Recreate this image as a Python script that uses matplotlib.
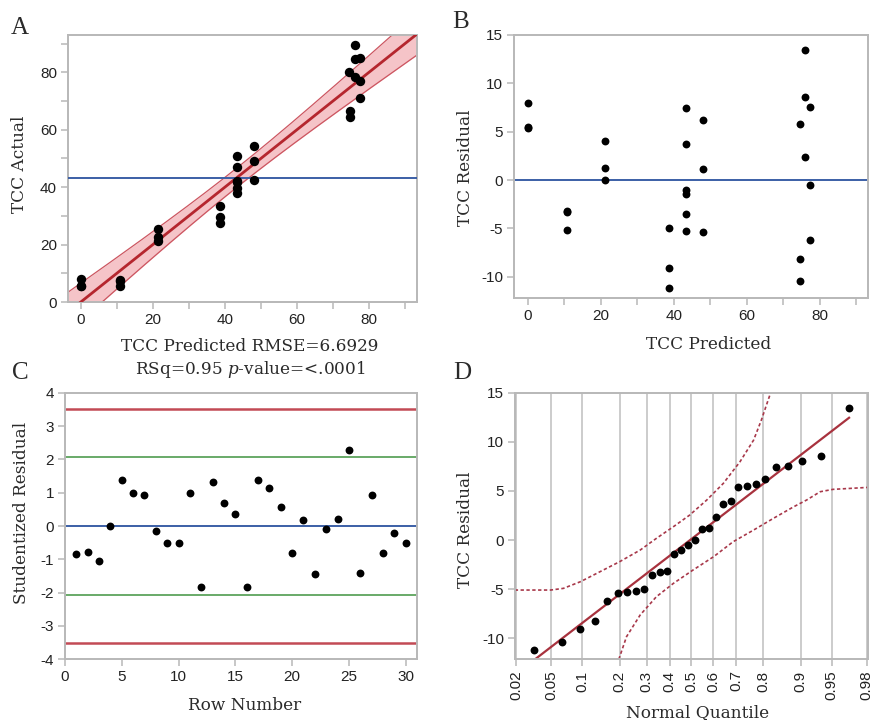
import numpy as np
import matplotlib
matplotlib.use('Agg')
import matplotlib.pyplot as plt
from matplotlib.ticker import MultipleLocator, FixedLocator
from statistics import NormalDist

# ---- data ----
# A / B: one entry per row (model predicted TCC and its residual)
predicted = [0.0, 0.0, 0.0, 10.7, 10.7, 10.7, 21.3, 21.3, 21.3,
             38.6, 38.6, 38.6, 43.3, 43.3, 43.3, 43.3, 43.3, 43.3,
             48.0, 48.0, 48.0, 74.5, 74.7, 74.7, 76.0, 76.0, 76.0,
             77.4, 77.4, 77.4]
residual = [8.0, 5.4, 5.5, -3.3, -3.2, -5.2, 4.0, 1.2, 0.0,
            -5.0, -9.1, -11.2, 7.4, 3.7, -1.0, -1.45, -3.55, -5.3,
            6.25, 1.15, -5.4, 5.75, -8.2, -10.4, 13.45, 8.6, 2.35,
            7.55, -0.55, -6.2]
rmse = 6.6929
band_crit = 2.75  # width factor of the confidence curves in A

# C: studentized residual by row number
rows = list(range(1, 31))
stud_resid = [-0.83, -0.77, -1.05, 0.01, 1.38, 0.98, 0.94, -0.15, -0.52, -0.50,
              0.98, -1.83, 1.32, 0.68, 0.37, -1.84, 1.38, 1.13, 0.57, -0.81,
              0.19, -1.44, -0.09, 0.21, 2.27, -1.41, 0.92, -0.80, -0.21, -0.51]
limit_red = 3.52
limit_green = 2.07

# D: normal quantile plot, reference line and confidence curves (z, residual)
qline_icpt = 0.1
qline_slope = 6.68
upper_z = [-2.07, -1.65, -1.50, -1.30, -1.07, -0.84, -0.60, -0.41, -0.21,
           -0.02, 0.18, 0.375, 0.57, 0.73, 0.82, 0.90, 0.93]
upper_y = [-5.09, -5.09, -4.92, -4.24, -3.22, -2.20, -1.02, 0.17, 1.36,
           2.54, 4.07, 5.77, 7.97, 10.18, 12.2, 14.25, 15.0]
lower_z = [-0.85, -0.76, -0.60, -0.41, -0.21, 0.02, 0.26, 0.49, 0.73,
           0.96, 1.20, 1.35, 1.51, 1.66, 2.07]
lower_y = [-12.14, -9.84, -7.63, -5.77, -4.41, -3.05, -1.70, -0.17, 1.02,
           2.20, 3.39, 4.07, 4.92, 5.16, 5.36]
prob_ticks = [0.02, 0.05, 0.1, 0.2, 0.3, 0.4, 0.5, 0.6, 0.7, 0.8, 0.9, 0.95, 0.98]

# ---- style ----
plt.rcParams['font.family'] = ['Liberation Sans', 'DejaVu Sans']
plt.rcParams['axes.unicode_minus'] = False
plt.rcParams['mathtext.fontset'] = 'dejavuserif'

W, H = 872, 720
FRAME = '#b8b8b8'
RED = '#b5262e'
BLUE = '#3b5fa6'
GREEN = '#4f9c4f'
SERIF = 'DejaVu Serif'


def px_axes(fig, left, top, right, bottom):
    return fig.add_axes([left / W, 1 - bottom / H, (right - left) / W, (bottom - top) / H])


def ftext(fig, x, y, s, **kw):
    kw.setdefault('family', SERIF)
    kw.setdefault('fontsize', 12.2)
    kw.setdefault('ha', 'center')
    kw.setdefault('va', 'center')
    fig.text(x / W, 1 - y / H, s, color='#2a2a2a', **kw)


def style(ax):
    for sp in ax.spines.values():
        sp.set_color(FRAME)
        sp.set_linewidth(1.4)
    ax.tick_params(which='both', direction='out', length=5, width=1.1,
                   color=FRAME, labelsize=11, labelcolor='#222222', pad=3)


fig = plt.figure(figsize=(W / 100, H / 100), dpi=100)

pred = np.array(predicted)
res = np.array(residual)
actual = pred + res
n = len(pred)

# ---- A: actual by predicted ----
axA = px_axes(fig, 68, 35, 417, 302)
style(axA)
xlo, xhi = -3.6, 93.3
slope, icpt = np.polyfit(pred, actual, 1)
xx = np.linspace(xlo, xhi, 200)
fit = icpt + slope * xx
sxx = np.sum((pred - pred.mean()) ** 2)
hw = band_crit * rmse * np.sqrt(1 / n + (xx - pred.mean()) ** 2 / sxx)
axA.fill_between(xx, fit - hw, fit + hw, color='#f5c4c8', lw=0, zorder=1)
axA.plot(xx, fit - hw, color='#cc5560', lw=0.9, zorder=2)
axA.plot(xx, fit + hw, color='#cc5560', lw=0.9, zorder=2)
axA.plot(xx, fit, color=RED, lw=2, zorder=3)
axA.axhline(actual.mean(), color=BLUE, lw=1.4, zorder=3)
axA.scatter(pred, actual, s=46, color='black', zorder=4, linewidths=0)
axA.set_xlim(xlo, xhi)
axA.set_ylim(0, 93)
axA.xaxis.set_major_locator(MultipleLocator(20))
axA.xaxis.set_minor_locator(MultipleLocator(10))
axA.yaxis.set_major_locator(MultipleLocator(20))
axA.yaxis.set_minor_locator(MultipleLocator(10))

# ---- B: residual by predicted ----
axB = px_axes(fig, 514, 35, 868, 298)
style(axB)
axB.axhline(0, color=BLUE, lw=1.4, zorder=2)
axB.scatter(pred, res, s=32, color='black', zorder=3, linewidths=0)
axB.set_xlim(-3.7, 93.2)
axB.set_ylim(-12.2, 15)
axB.xaxis.set_major_locator(MultipleLocator(20))
axB.xaxis.set_minor_locator(MultipleLocator(10))
axB.yaxis.set_major_locator(MultipleLocator(5))

# ---- C: studentized residuals by row ----
axC = px_axes(fig, 65, 392.7, 417, 659.3)
style(axC)
for lv, col, lw in [(limit_red, '#c24a55', 1.8), (-limit_red, '#c24a55', 1.8),
                    (limit_green, GREEN, 1.2), (-limit_green, GREEN, 1.2),
                    (0, BLUE, 1.4)]:
    axC.axhline(lv, color=col, lw=lw, zorder=2)
axC.scatter(rows, stud_resid, s=32, color='black', zorder=3, linewidths=0)
axC.set_xlim(0, 31)
axC.set_ylim(-4, 4)
axC.xaxis.set_major_locator(MultipleLocator(5))
axC.yaxis.set_major_locator(MultipleLocator(1))

# ---- D: normal quantile plot ----
axD = px_axes(fig, 515, 392.7, 867.7, 659.3)
style(axD)
nd = NormalDist()
zt = [nd.inv_cdf(p) for p in prob_ticks]
for z in zt:
    axD.axvline(z, color='#cccccc', lw=1.4, zorder=0)
res_sorted = np.sort(res)
zq = np.array([nd.inv_cdf(i / (n + 1)) for i in range(1, n + 1)])
zl = np.array([zq[0], zq[-1]])
axD.plot(zl, qline_icpt + qline_slope * zl, color='#a8323e', lw=1.6, zorder=2)
axD.plot(upper_z, upper_y, color='#a8384a', lw=1.2, ls=(0, (2, 1.5)), zorder=2)
axD.plot(lower_z, lower_y, color='#a8384a', lw=1.2, ls=(0, (2, 1.5)), zorder=2)
axD.scatter(zq, res_sorted, s=32, color='black', zorder=3, linewidths=0)
axD.set_xlim(-2.067, 2.067)
axD.set_ylim(-12.14, 15)
axD.xaxis.set_major_locator(FixedLocator(zt))
axD.set_xticklabels([f'{p:g}' for p in prob_ticks], rotation=90)
axD.yaxis.set_major_locator(MultipleLocator(5))

# ---- labels ----
for x, y, s in [(20, 28, 'A'), (461, 22, 'B'), (20, 373, 'C'), (462, 373, 'D')]:
    ftext(fig, x, y, s, family='Liberation Serif', fontsize=18)

ftext(fig, 19, 164, 'TCC Actual', rotation=90)
ftext(fig, 250, 346, 'TCC Predicted RMSE=6.6929')
ftext(fig, 250, 370, r'RSq=0.95 $\mathit{p}$-value=<.0001')
ftext(fig, 465, 168, 'TCC Residual', rotation=90)
ftext(fig, 709, 344, 'TCC Predicted')
ftext(fig, 22, 513, 'Studentized Residual', rotation=90)
ftext(fig, 245, 706, 'Row Number')
ftext(fig, 465, 530, 'TCC Residual', rotation=90)
ftext(fig, 698, 713, 'Normal Quantile')

fig.savefig('out.png', dpi=100)
